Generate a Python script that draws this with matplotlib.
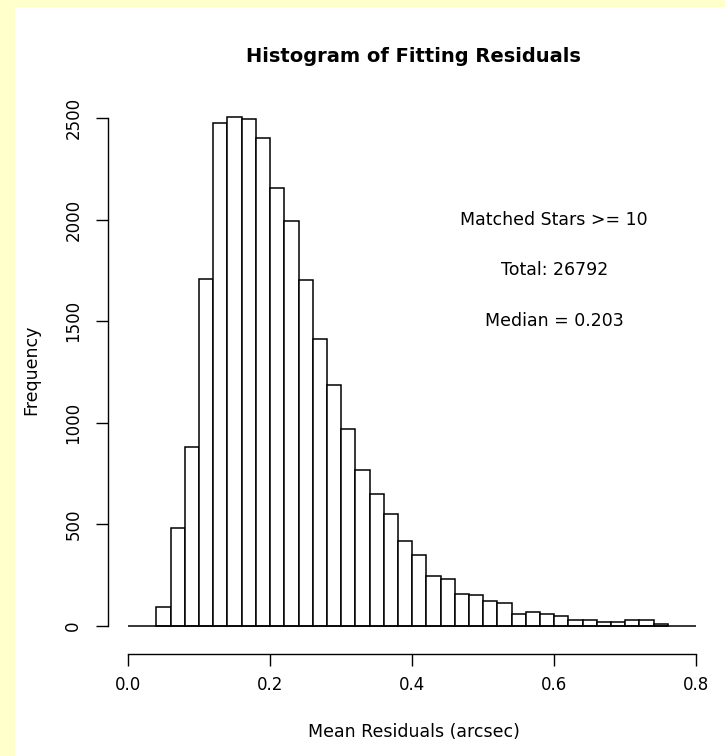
import numpy as np
import matplotlib.pyplot as plt
from matplotlib.patches import Rectangle

plt.rcParams['font.family'] = ['DejaVu Sans']

# histogram bins (width 0.02, starting at 0.04) and counts
bin_start = 0.04
bin_width = 0.02
counts = [92, 480, 882, 1708, 2476, 2505, 2495, 2400, 2156, 1992,
          1703, 1411, 1186, 969, 766, 651, 550, 417, 347, 245,
          230, 159, 151, 122, 113, 59, 67, 59, 51, 28,
          28, 18, 18, 30, 30, 12]
x_ticks = [0.0, 0.2, 0.4, 0.6, 0.8]
y_ticks = [0, 500, 1000, 1500, 2000, 2500]
notes = ['Matched Stars >= 10', 'Total: 26792', 'Median = 0.203']
note_y = [2000, 1750, 1500]

left_edges = bin_start + bin_width * np.arange(len(counts))

fig = plt.figure(figsize=(7.25, 7.56), dpi=100)
fig.patch.set_facecolor('#FFFFCC')
# white panel, yellow strip on the left and top
fig.patches.append(Rectangle((15 / 725, 0), 1, 1 - 7 / 756, transform=fig.transFigure,
                             facecolor='white', edgecolor='none', zorder=-10))

ax = fig.add_axes([108 / 725, 1 - 654 / 756, (719 - 108) / 725, (654 - 98) / 756])
ax.set_facecolor('none')

ax.bar(left_edges, counts, width=bin_width, align='edge',
       facecolor='white', edgecolor='black', linewidth=1.1)
ax.hlines(0, 0, 0.8, color='black', linewidth=1.1)

ax.set_xlim(-0.0282, 0.832)
ax.set_ylim(-137.8, 2598)

for side in ['top', 'right']:
    ax.spines[side].set_visible(False)
ax.spines['left'].set_bounds(0, 2500)
ax.spines['bottom'].set_bounds(0, 0.8)
ax.spines['left'].set_linewidth(1.0)
ax.spines['bottom'].set_linewidth(1.0)

ax.set_xticks(x_ticks)
ax.set_xticklabels(['%.1f' % v for v in x_ticks])
ax.set_yticks(y_ticks)
ax.set_yticklabels([str(v) for v in y_ticks], rotation=90, va='center')
ax.tick_params(axis='both', length=8.5, width=1.0, labelsize=12)
ax.tick_params(axis='x', pad=7)
ax.tick_params(axis='y', pad=10)

for txt, yv in zip(notes, note_y):
    ax.text(0.6, yv, txt, ha='center', va='center', fontsize=12.5)

ax.set_title('Histogram of Fitting Residuals', fontsize=14, fontweight='bold', pad=26)
ax.set_xlabel('Mean Residuals (arcsec)', fontsize=12.5)
ax.xaxis.set_label_coords(0.5, -0.14)
ax.xaxis.label.set_va('center')
ax.set_ylabel('Frequency', fontsize=12.5)
ax.yaxis.set_label_coords(-0.126, 0.511)
ax.yaxis.label.set_va('center')

fig.savefig('out.png', dpi=100, facecolor=fig.get_facecolor())
